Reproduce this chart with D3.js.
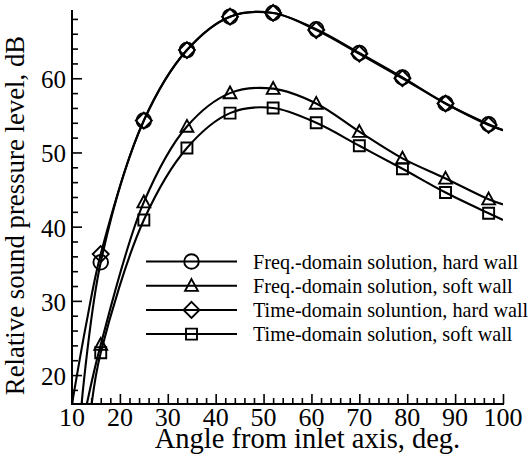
<!DOCTYPE html>
<html><head><meta charset="utf-8">
<script src="https://cdn.jsdelivr.net/npm/d3@7"></script>
<style>body{margin:0;background:#fff}svg{display:block}</style>
</head><body><svg id="c" width="531" height="457"></svg>
<script>
// ---- data ----
const angles   = [16, 25, 34, 43, 52, 61, 70, 79, 88, 97];
const freqHard = [35.2, 54.3, 63.8, 68.3, 68.8, 66.6, 63.4, 60.1, 56.6, 53.8];
const timeHard = [36.3, 54.3, 63.8, 68.3, 68.8, 66.5, 63.3, 60.0, 56.6, 53.7];
const freqSoft = [24.1, 43.3, 53.5, 58.0, 58.6, 56.6, 52.8, 49.2, 46.5, 43.7];
const timeSoft = [23.0, 40.9, 50.6, 55.3, 56.0, 54.0, 50.9, 47.8, 44.6, 41.8];
// curve lead-in points (below first marker) and end points at 100 deg
const freqHardLead = [[12.0, 16.1]];
const timeHardLead = [[10.0, 16.1], [13.0, 27.0]];
const freqSoftLead = [[13.1, 16.1]];
const timeSoftLead = [[14.1, 16.1]];
const freqHardEnd = [[100, 53.0]];
const timeHardEnd = [[100, 53.0]];
const freqSoftEnd = [[100, 43.0]];
const timeSoftEnd = [[100, 40.9]];
const xTicks = [10, 20, 30, 40, 50, 60, 70, 80, 90, 100];
const yTicks = [20, 30, 40, 50, 60];
const legendLabels = [
  "Freq.-domain solution, hard wall",
  "Freq.-domain solution, soft wall",
  "Time-domain soluntion, hard wall",
  "Time-domain solution, soft wall"
];
const xTitle = "Angle from inlet axis, deg.";
const yTitle = "Relative sound pressure level, dB";

// ---- layout ----
const L = 72, R = 503, T = 10, B = 404;
const FONT = "Liberation Serif";
const svg = d3.select("#c");
const x = d3.scaleLinear().domain([10, 100]).range([L, R]);
const y = d3.scaleLinear().domain([16.1, 69.2]).range([B, T]);

svg.append("defs").append("clipPath").attr("id", "clip")
  .append("rect").attr("x", L).attr("y", T).attr("width", R - L).attr("height", B - T);

const series = [
  {vals: freqHard, lead: freqHardLead, end: freqHardEnd, sym: "circle"},
  {vals: freqSoft, lead: freqSoftLead, end: freqSoftEnd, sym: "triangle"},
  {vals: timeHard, lead: timeHardLead, end: timeHardEnd, sym: "diamond"},
  {vals: timeSoft, lead: timeSoftLead, end: timeSoftEnd, sym: "square"}
];

const shapes = {
  circle: "M7.3,0A7.3,7.3 0 1,1 -7.3,0A7.3,7.3 0 1,1 7.3,0Z",
  triangle: "M0,-6.6L6.4,5.2L-6.4,5.2Z",
  diamond: "M0,-8L8,0L0,8L-8,0Z",
  square: "M-5.5,-5.5H5.5V5.5H-5.5Z"
};

const line = d3.line().x(d => x(d[0])).y(d => y(d[1])).curve(d3.curveCatmullRom.alpha(0.5));

const gCurves = svg.append("g").attr("clip-path", "url(#clip)");
series.forEach(s => {
  const pts = s.lead.concat(angles.map((a, i) => [a, s.vals[i]]), s.end);
  gCurves.append("path").attr("d", line(pts))
    .attr("fill", "none").attr("stroke", "#000").attr("stroke-width", 2.1);
});
series.forEach(s => {
  svg.append("g").selectAll("path").data(angles).join("path")
    .attr("d", shapes[s.sym])
    .attr("transform", (a, i) => `translate(${x(a)},${y(s.vals[i])})`)
    .attr("fill", "none").attr("stroke", "#000").attr("stroke-width", 1.9);
});

// ---- axes ----
const xMinor = d3.range(12, 100, 2).filter(v => v % 10 !== 0);
const yMinor = d3.range(18, 69, 2).filter(v => v % 10 !== 0);
const gx = svg.append("g").attr("transform", `translate(0,${B})`);
gx.call(d3.axisBottom(x).tickValues(xTicks).tickSize(-10).tickFormat(""));
gx.append("g").call(d3.axisBottom(x).tickValues(xMinor).tickSize(-6).tickFormat(""));
const gy = svg.append("g").attr("transform", `translate(${L},0)`);
gy.call(d3.axisLeft(y).tickValues(yTicks).tickSize(-10).tickFormat(""));
gy.append("g").call(d3.axisLeft(y).tickValues(yMinor).tickSize(-6).tickFormat(""));
svg.selectAll(".domain").attr("stroke", "none");
svg.selectAll(".tick line").attr("stroke", "#000").attr("stroke-width", 1.6);
svg.append("line").attr("x1", L).attr("x2", L).attr("y1", T).attr("y2", B + 1)
  .attr("stroke", "#000").attr("stroke-width", 2);
svg.append("line").attr("x1", L - 1).attr("x2", R + 1).attr("y1", B).attr("y2", B)
  .attr("stroke", "#000").attr("stroke-width", 2);

// tick labels
svg.append("g").selectAll("text").data(xTicks).join("text")
  .attr("x", d => x(d)).attr("y", 426)
  .attr("text-anchor", "middle").attr("font-family", FONT).attr("font-size", 26)
  .text(d => d);
svg.append("g").selectAll("text").data(yTicks).join("text")
  .attr("x", 66).attr("y", d => y(d) + 10)
  .attr("text-anchor", "end").attr("font-family", FONT).attr("font-size", 25)
  .text(d => d);

// axis titles
svg.append("text").attr("x", 307.5).attr("y", 448)
  .attr("text-anchor", "middle").attr("font-family", FONT).attr("font-size", 28.5).text(xTitle);
svg.append("text").attr("transform", "translate(24,215.5) rotate(-90)")
  .attr("text-anchor", "middle").attr("font-family", FONT).attr("font-size", 26.8).text(yTitle);

// ---- legend ----
const legY = [261.5, 285.7, 309.9, 334.1];
const gl = svg.append("g");
series.forEach((s, i) => {
  gl.append("line").attr("x1", 146).attr("x2", 237).attr("y1", legY[i]).attr("y2", legY[i])
    .attr("stroke", "#000").attr("stroke-width", 2);
  gl.append("path").attr("d", shapes[s.sym]).attr("transform", `translate(191.5,${legY[i]})`)
    .attr("fill", "none").attr("stroke", "#000").attr("stroke-width", 1.9);
  gl.append("text").attr("x", 253).attr("y", legY[i] + 7)
    .attr("font-family", FONT).attr("font-size", 20.2)
    .text(legendLabels[i]);
});
</script></body></html>
